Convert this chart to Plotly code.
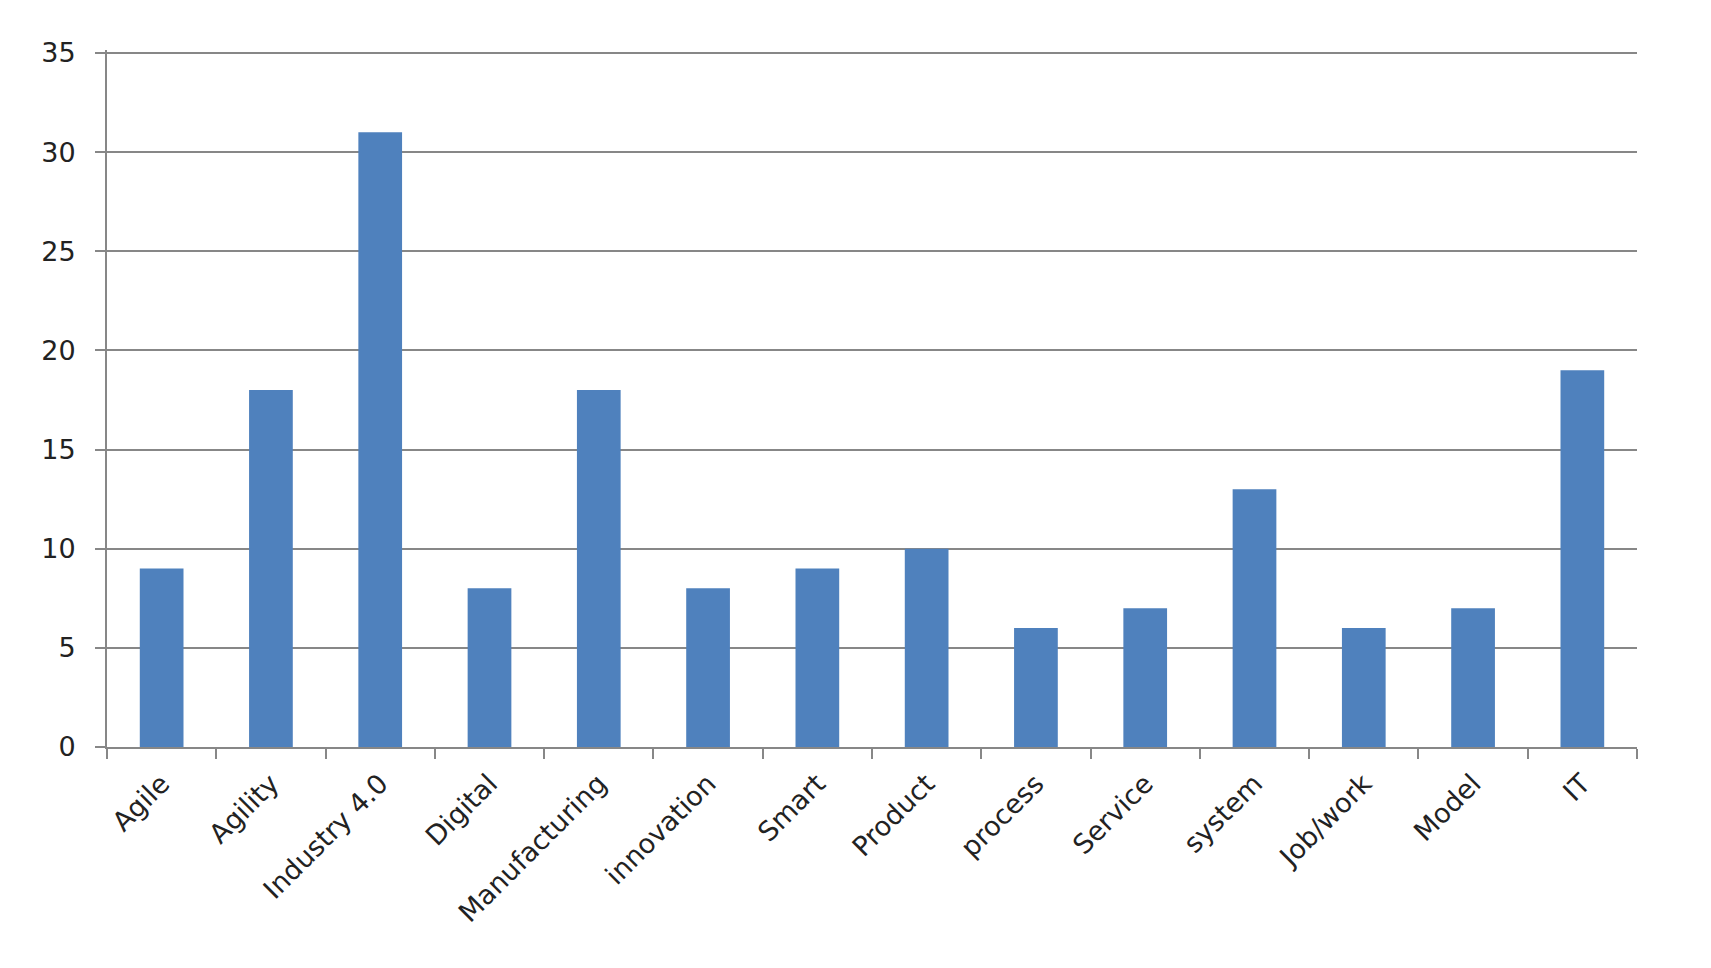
import plotly.graph_objects as go

categories = ['Agile', 'Agility', 'Industry 4.0', 'Digital', 'Manufacturing', 'innovation',
              'Smart', 'Product', 'process', 'Service', 'system', 'Job/work', 'Model', 'IT']
counts = [9, 18, 31, 8, 18, 8, 9, 10, 6, 7, 13, 6, 7, 19]

fig = go.Figure()

fig.add_trace(
    go.Bar(
        x=categories,
        y=counts,
        marker_color='#4F81BD',
        marker_line_width=0,
        showlegend=False
    )
)

# page body has an 8px margin, so the figure is a bit smaller than the window
fig.update_layout(
    width=1695,
    height=952,
    paper_bgcolor='white',
    plot_bgcolor='white',
    bargap=0.6,
    margin={"l": 99, "r": 66, "t": 42, "b": 213},
    font=dict(family='DejaVu Sans, sans-serif', size=27, color='#222222')
)

fig.update_yaxes(
    range=[0, 35.15],
    tickvals=[0, 5, 10, 15, 20, 25, 30, 35],
    showgrid=True,
    gridcolor='#878787',
    gridwidth=2,
    showline=True,
    linecolor='#878787',
    linewidth=2,
    ticks='outside',
    ticklen=10,
    tickwidth=2,
    tickcolor='#878787',
    zeroline=False,
    ticklabelstandoff=14,
    automargin=False
)

fig.update_xaxes(
    showline=True,
    linecolor='#878787',
    linewidth=2,
    ticks='outside',
    tickson='boundaries',
    ticklen=10,
    tickwidth=2,
    tickcolor='#878787',
    tickangle=-45,
    ticklabelstandoff=8,
    showgrid=False,
    automargin=False
)

fig.write_html("out.html")
